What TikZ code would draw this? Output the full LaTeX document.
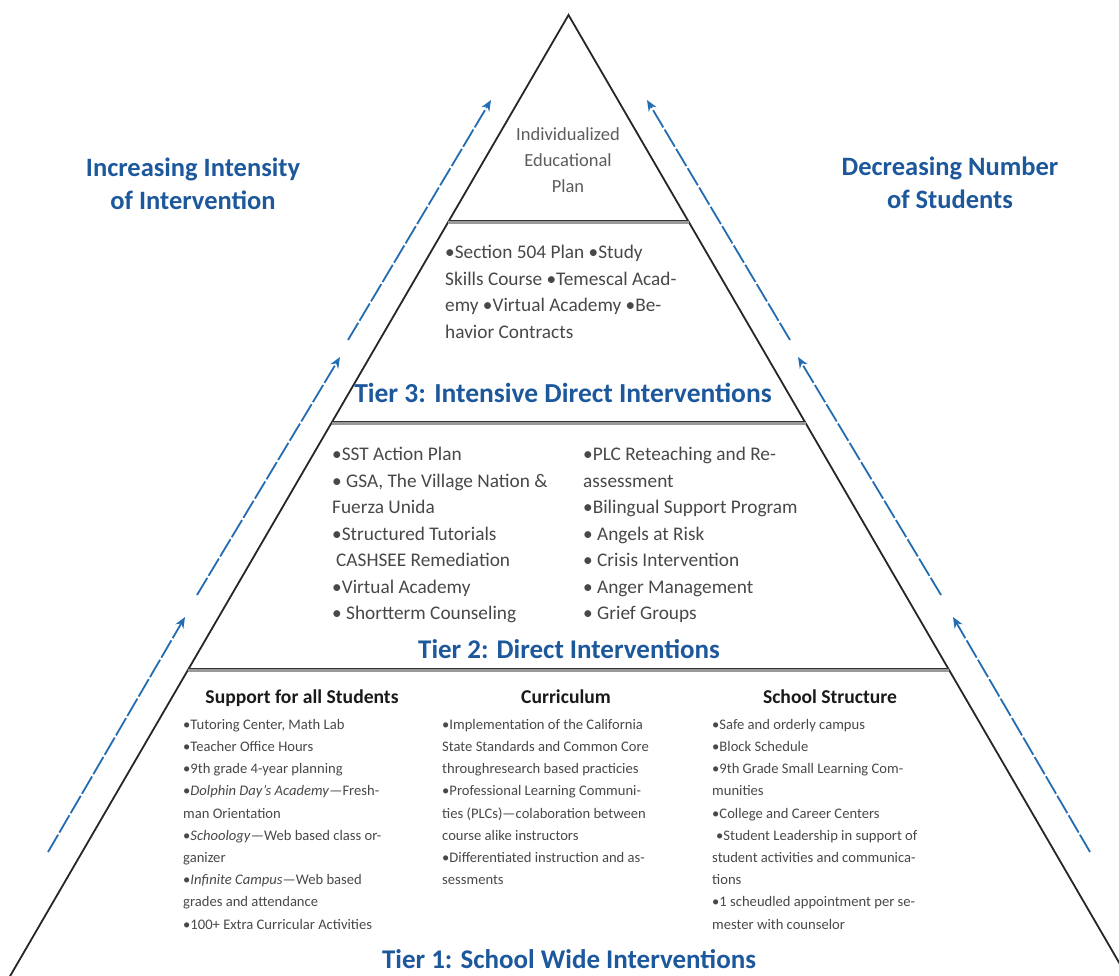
\documentclass[tikz,border=0pt]{standalone}
\usepackage{fontspec}
\setmainfont{Carlito}
\usetikzlibrary{arrows.meta,calc}
\definecolor{tierblue}{RGB}{28,88,155}
\definecolor{arrowblue}{RGB}{36,108,178}
\definecolor{bodygray}{RGB}{72,72,72}
\definecolor{lightgray}{RGB}{92,92,92}
\begin{document}
\begin{tikzpicture}[x=1pt,y=-1pt,
  sideline/.style={line width=1.8pt,black!85,line join=miter},
  divider/.style={line width=4.2pt,black!40},
  dividertop/.style={line width=1.1pt,black!80},
  flow/.style={arrowblue,line width=1.8pt,dash pattern=on 20pt off 2.5pt,
    -{Stealth[length=11pt,width=9pt]}},
  tierlabel/.style={text=tierblue,font=\bfseries\fontsize{27}{32}\selectfont,
    inner sep=0pt,anchor=base},
  sidelabel/.style={text=tierblue,font=\bfseries\fontsize{26.5}{33}\selectfont,
    inner sep=0pt,align=center,anchor=north},
  bodytext/.style={text=bodygray,font=\fontsize{19.3}{26.5}\selectfont,
    inner sep=0pt,align=left,anchor=north west},
  smalltext/.style={text=bodygray,font=\fontsize{14.6}{22.2}\selectfont,
    inner sep=0pt,align=left,anchor=north west},
  colhead/.style={text=black!90,font=\bfseries\fontsize{19.6}{22}\selectfont,
    inner sep=0pt,anchor=north}
]
\useasboundingbox (0,0) rectangle (1119,975);
\clip (0,0) rectangle (1119,975);

% pyramid outline
\coordinate (apex) at (568.5,15);
\coordinate (bl) at (4.9,985);
\coordinate (br) at (1132.1,985);
\draw[sideline] (bl) -- (apex) -- (br);

% tier dividers
\coordinate (d1l) at (448.2,222);  \coordinate (d1r) at (688.8,222);
\coordinate (d2l) at (331.5,423);  \coordinate (d2r) at (805.5,423);
\coordinate (d3l) at (187.9,670);  \coordinate (d3r) at (949.1,670);
\foreach \d in {1,2,3}{
  \draw[divider] (d\d l) -- (d\d r);
  \draw[dividertop] ([yshift=1.6pt]d\d l) -- ([yshift=1.6pt]d\d r);
}

% arrows along the left side
\coordinate (la1) at (48,852);  \coordinate (la2) at (185,617);
\coordinate (lb1) at (197,595); \coordinate (lb2) at (340,357);
\coordinate (lc1) at (348,340); \coordinate (lc2) at (491,100);
\draw[flow] (la1) -- (la2);
\draw[flow] (lb1) -- (lb2);
\draw[flow] (lc1) -- (lc2);

% arrows along the right side
\coordinate (ra1) at (1090,852); \coordinate (ra2) at (953,617);
\coordinate (rb1) at (941,595);  \coordinate (rb2) at (798,357);
\coordinate (rc1) at (790,340);  \coordinate (rc2) at (647,100);
\draw[flow] (ra1) -- (ra2);
\draw[flow] (rb1) -- (rb2);
\draw[flow] (rc1) -- (rc2);

% side captions
\node[sidelabel] (intensity) at (193,158) {Increasing Intensity\\of Intervention};
\node[sidelabel] (students) at (950,157) {Decreasing Number\\of Students};

% top of the pyramid
\node[bodytext,text=lightgray,align=center,anchor=north,
  font=\fontsize{18.5}{26}\selectfont] (iep) at (568,127)
  {Individualized\\Educational\\Plan};

% tier 3
\node[bodytext] (t3body) at (445,245)
  {•Section 504 Plan •Study\\Skills Course •Temescal Acad-\\emy •Virtual Academy •Be-\\havior Contracts};
\node[tierlabel,font=\bfseries\fontsize{27.5}{32}\selectfont] (t3) at (563,402)
  {Tier 3: Intensive Direct Interventions};

% tier 2
\node[bodytext] (t2left) at (332,447)
  {•SST Action Plan\\• GSA, The Village Nation \&\\Fuerza Unida\\•Structured Tutorials\\\hspace*{4pt}CASHSEE Remediation\\•Virtual Academy\\• Shortterm Counseling};
\node[bodytext] (t2right) at (583,447)
  {•PLC Reteaching and Re-\\assessment\\•Bilingual Support Program\\• Angels at Risk\\• Crisis Intervention\\• Anger Management\\• Grief Groups};
\node[tierlabel] (t2) at (569,658) {Tier 2: Direct Interventions};

% tier 1
\node[colhead] (h1) at (302,690) {Support for all Students};
\node[colhead] (h2) at (566,690) {Curriculum};
\node[colhead] (h3) at (830,690) {School Structure};
\node[smalltext] (c1) at (183,719)
  {•Tutoring Center, Math Lab\\•Teacher Office Hours\\•9th grade 4-year planning\\•\textit{Dolphin Day's Academy}—Fresh-\\man Orientation\\•\textit{Schoology}—Web based class or-\\ganizer\\•\textit{Infinite Campus}—Web based\\grades and attendance\\•100+ Extra Curricular Activities};
\node[smalltext] (c2) at (442,719)
  {•Implementation of the California\\State Standards and Common Core\\throughresearch based practicies\\•Professional Learning Communi-\\ties (PLCs)—colaboration between\\course alike instructors\\•Differentiated instruction and as-\\sessments};
\node[smalltext] (c3) at (712,719)
  {•Safe and orderly campus\\•Block Schedule\\•9th Grade Small Learning Com-\\munities\\•College and Career Centers\\\hspace*{4pt}•Student Leadership in support of\\student activities and communica-\\tions\\•1 scheudled appointment per se-\\mester with counselor};
\node[tierlabel] (t1) at (569,968) {Tier 1: School Wide Interventions};
\end{tikzpicture}
\end{document}
